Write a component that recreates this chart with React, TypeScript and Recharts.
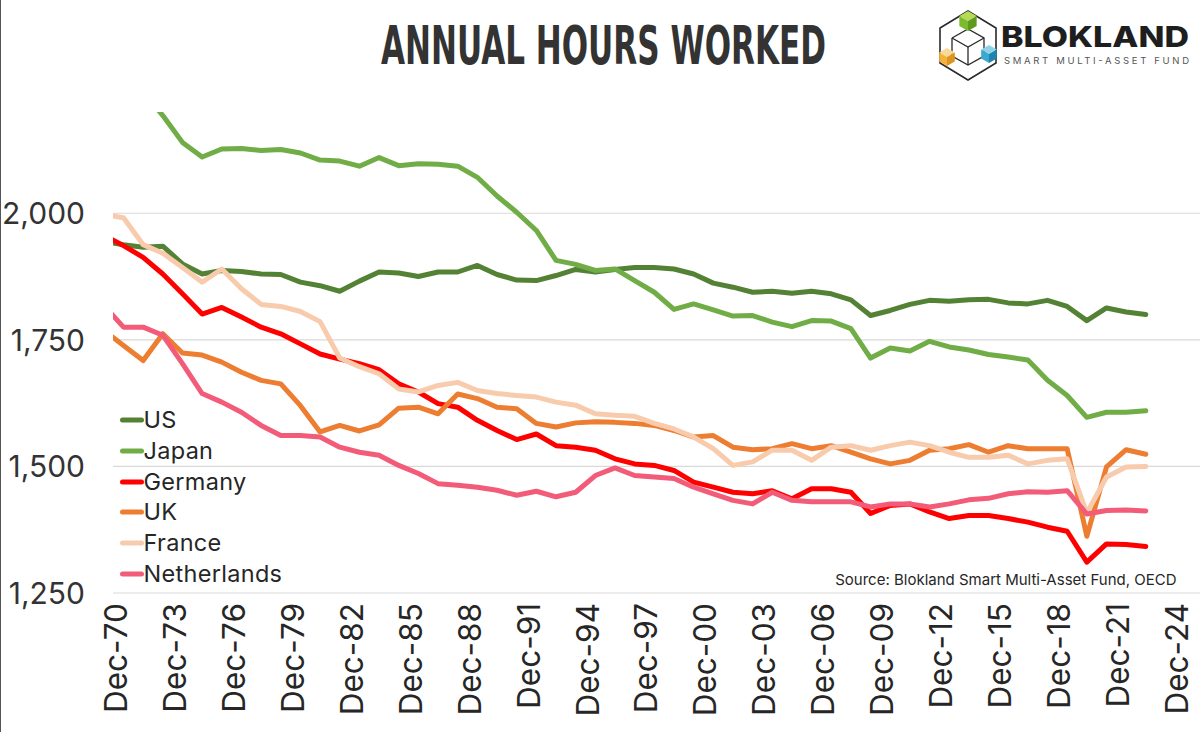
import React from 'react';
import { LineChart, Line, XAxis, YAxis, CartesianGrid, Legend } from 'recharts';

// ---------- data ----------
const years = [
  1970, 1971, 1972, 1973, 1974, 1975, 1976, 1977, 1978, 1979,
  1980, 1981, 1982, 1983, 1984, 1985, 1986, 1987, 1988, 1989,
  1990, 1991, 1992, 1993, 1994, 1995, 1996, 1997, 1998, 1999,
  2000, 2001, 2002, 2003, 2004, 2005, 2006, 2007, 2008, 2009,
  2010, 2011, 2012, 2013, 2014, 2015, 2016, 2017, 2018, 2019,
  2020, 2021, 2022, 2023,
];

const us = [
  1944, 1938, 1933, 1935, 1900, 1880, 1887, 1885, 1880, 1879,
  1864, 1857, 1846, 1866, 1884, 1882, 1875, 1884, 1884, 1897,
  1879, 1868, 1867, 1877, 1889, 1884, 1889, 1893, 1893, 1890,
  1880, 1862, 1854, 1844, 1846, 1842, 1846, 1841, 1829, 1798,
  1808, 1820, 1828, 1826, 1829, 1830, 1823, 1821, 1828, 1816,
  1788, 1813, 1805, 1800,
];

const japan = [
  2255, 2250, 2240, 2193, 2140, 2111, 2127, 2128, 2124, 2126,
  2119, 2105, 2103, 2093, 2110, 2094, 2098, 2097, 2093, 2071,
  2034, 2002, 1966, 1907, 1899, 1887, 1890, 1867, 1844, 1810,
  1821, 1809, 1797, 1798, 1785, 1776, 1788, 1787, 1772, 1714,
  1734, 1728, 1747, 1736, 1730, 1721, 1716, 1710, 1670, 1640,
  1597, 1607, 1607, 1610,
];

const germany = [
  1957, 1936, 1913, 1880, 1841, 1801, 1814, 1795, 1775, 1762,
  1742, 1722, 1712, 1703, 1691, 1663, 1647, 1624, 1617, 1591,
  1571, 1553, 1564, 1541, 1538, 1532, 1515, 1505, 1502, 1492,
  1469, 1459, 1449, 1446, 1452, 1436, 1456, 1456, 1449, 1407,
  1423, 1426, 1410, 1397, 1403, 1403, 1397, 1390, 1380, 1372,
  1311, 1347, 1346, 1342,
];

const uk = [
  1769, 1739, 1709, 1762, 1724, 1720, 1706, 1686, 1670, 1663,
  1620, 1568, 1581, 1570, 1582, 1615, 1617, 1604, 1643, 1634,
  1617, 1614, 1585, 1578, 1586, 1588, 1587, 1585, 1581, 1571,
  1558, 1561, 1538, 1533, 1535, 1545, 1535, 1541, 1528, 1515,
  1505, 1512, 1532, 1535, 1543, 1528, 1541, 1535, 1535, 1535,
  1362, 1499, 1533, 1524,
];

const france = [
  1998, 1991, 1938, 1921, 1893, 1864, 1890, 1851, 1820, 1816,
  1806, 1786, 1714, 1697, 1683, 1653, 1647, 1660, 1666, 1650,
  1644, 1640, 1637, 1627, 1621, 1604, 1601, 1599, 1585, 1574,
  1558, 1535, 1502, 1509, 1532, 1532, 1512, 1538, 1541, 1532,
  1541, 1548, 1541, 1528, 1518, 1518, 1522, 1505, 1512, 1515,
  1408, 1479, 1499, 1500,
];

const netherlands = [
  1818, 1775, 1775, 1759, 1703, 1644, 1627, 1607, 1581, 1561,
  1561, 1558, 1538, 1528, 1522, 1502, 1486, 1466, 1463, 1459,
  1453, 1443, 1451, 1440, 1449, 1482, 1497, 1482, 1479, 1476,
  1459, 1446, 1433, 1426, 1449, 1433, 1430, 1430, 1430, 1420,
  1426, 1426, 1420, 1426, 1434, 1437, 1446, 1450, 1449, 1452,
  1406, 1413, 1414, 1412,
];

const seriesNames = ['US', 'Japan', 'Germany', 'UK', 'France', 'Netherlands'];
const seriesValues = [us, japan, germany, uk, france, netherlands];
const seriesColors = ['#548235', '#70AD47', '#FF0000', '#ED7D31', '#F8CBAD', '#F25C78'];

const yTicks = [1250, 1500, 1750, 2000];
const xTickYears = [1970, 1973, 1976, 1979, 1982, 1985, 1988, 1991, 1994, 1997, 2000, 2003, 2006, 2009, 2012, 2015, 2018, 2021, 2024];
const xTickLabels = ['Dec-70', 'Dec-73', 'Dec-76', 'Dec-79', 'Dec-82', 'Dec-85', 'Dec-88', 'Dec-91', 'Dec-94', 'Dec-97', 'Dec-00', 'Dec-03', 'Dec-06', 'Dec-09', 'Dec-12', 'Dec-15', 'Dec-18', 'Dec-21', 'Dec-24'];

const TITLE = 'ANNUAL HOURS WORKED';
const SOURCE = 'Source: Blokland Smart Multi-Asset Fund, OECD';

// where each "Dec-YY" label sits relative to the start of year YY
const TICK_OFFSET = 0.585;
const X_DOMAIN: [number, number] = [1970.466, 2025.756];
const Y_DOMAIN: [number, number] = [1250, 2200];

const data = years.map((yr, i) => {
  const row: Record<string, number> = { t: yr };
  seriesNames.forEach((n, s) => {
    row[n] = seriesValues[s][i];
  });
  return row;
});

const xTickValues = xTickYears.map((y) => y + TICK_OFFSET);

const FONT = 'Inter, "Noto Sans", "Liberation Sans", sans-serif';

const XTick = (props: any) => {
  const { x, y, payload, index } = props;
  const i = typeof index === 'number' ? index : xTickValues.findIndex((v) => Math.abs(v - payload.value) < 1e-6);
  const label = xTickLabels[i] ?? '';
  return (
    <text
      x={x}
      y={y}
      transform={`rotate(-90, ${x}, ${y})`}
      textAnchor="end"
      dy="0.36em"
      fontSize={31.5}
      fill="#262626"
      fontFamily={FONT}
    >
      {label}
    </text>
  );
};

const YTick = (props: any) => {
  const { x, y, payload } = props;
  return (
    <text x={x} y={y} textAnchor="end" dy="0.36em" fontSize={30} fill="#333333" fontFamily={FONT}>
      {Number(payload.value).toLocaleString('en-US')}
    </text>
  );
};

const LegendContent = () => (
  <div style={{ fontFamily: FONT }}>
    {seriesNames.map((n, i) => (
      <div key={n} style={{ display: 'flex', alignItems: 'center', height: 30.8 }}>
        <svg width={24} height={10} style={{ display: 'block' }}>
          <line x1={2.5} y1={5} x2={21.5} y2={5} stroke={seriesColors[i]} strokeWidth={5} strokeLinecap="round" />
        </svg>
        <span style={{ fontSize: 23.5, color: '#262626', lineHeight: '30px', letterSpacing: 0.3 }}>{n}</span>
      </div>
    ))}
  </div>
);

const isoCube = (cx: number, cy: number, r: number, top: string, left: string, right: string) => {
  const w = r * 0.866;
  return (
    <g>
      <polygon points={`${cx},${cy - r} ${cx + w},${cy - r / 2} ${cx},${cy} ${cx - w},${cy - r / 2}`} fill={top} />
      <polygon points={`${cx - w},${cy - r / 2} ${cx},${cy} ${cx},${cy + r} ${cx - w},${cy + r / 2}`} fill={left} />
      <polygon points={`${cx},${cy} ${cx + w},${cy - r / 2} ${cx + w},${cy + r / 2} ${cx},${cy + r}`} fill={right} />
    </g>
  );
};

const Header = () => (
  <svg width={1200} height={110} style={{ position: 'absolute', left: 0, top: 0 }}>
    <g transform="translate(380,64) scale(1,1.5)">
      <text
        x={0}
        y={0}
        fontSize={36}
        fontWeight={700}
        fill="#333333"
        fontFamily='"DejaVu Sans Condensed", "Liberation Sans Narrow", "DejaVu Sans", sans-serif'
        textLength={445}
        lengthAdjust="spacingAndGlyphs"
      >
        {TITLE}
      </text>
    </g>
    {/* logo icon */}
    <polygon points="967,11 995,28 995,63 967,80 939,63 939,28" fill="none" stroke="#2a2a2a" strokeWidth={1.6} />
    <g stroke="#2a2a2a" strokeWidth={1.3} fill="none">
      <polyline points="951,38 967,29 983,38 983,56 967,65 951,56 951,38" />
      <polyline points="951,38 967,47 983,38" />
      <line x1={967} y1={47} x2={967} y2={65} />
    </g>
    {isoCube(967, 21, 10, '#B5DB55', '#7DBB2E', '#5E9A1F')}
    {isoCube(946, 57, 9, '#F9D99A', '#F3B23C', '#DD951F')}
    {isoCube(988, 54, 9, '#8FD3EA', '#3AA8D0', '#1F83AE')}
    <text
      x={1000}
      y={47}
      fontSize={29}
      fontWeight={800}
      fill="#1e1e1e"
      fontFamily={FONT}
      textLength={188}
      lengthAdjust="spacingAndGlyphs"
    >
      BLOKLAND
    </text>
    <text
      x={1003}
      y={64}
      fontSize={9.5}
      fill="#555555"
      fontFamily={FONT}
      textLength={185}
      lengthAdjust="spacing"
    >
      SMART MULTI-ASSET FUND
    </text>
  </svg>
);

export default function App() {
  return (
    <div
      style={{
        position: 'absolute',
        left: 0,
        top: 0,
        width: 1200,
        height: 732,
        background: '#ffffff',
        borderLeft: '1.5px solid #555555',
        boxSizing: 'border-box',
        overflow: 'hidden',
      }}
    >
      <div style={{ position: 'absolute', left: -1.5, top: 0 }}>
        <LineChart width={1200} height={732} data={data} margin={{ top: 112, right: 0, bottom: 0, left: 0 }}>
          <CartesianGrid horizontal vertical={false} horizontalValues={yTicks} stroke="#D9D9D9" strokeWidth={1.2} />
          <XAxis
            type="number"
            dataKey="t"
            domain={X_DOMAIN}
            allowDataOverflow
            ticks={xTickValues}
            interval={0}
            height={139}
            axisLine={false}
            tickLine={false}
            tickSize={0}
            tickMargin={10}
            tick={<XTick />}
          />
          <YAxis
            type="number"
            domain={Y_DOMAIN}
            allowDataOverflow
            ticks={yTicks}
            width={113}
            axisLine={false}
            tickLine={false}
            tickSize={0}
            tickMargin={28}
            tick={<YTick />}
          />
          <Legend
            layout="vertical"
            verticalAlign="middle"
            align="center"
            content={<LegendContent />}
            wrapperStyle={{ position: 'absolute', left: 120, top: 404.6, width: 'auto', height: 'auto' }}
          />
          {seriesNames.map((n, i) => (
            <Line
              key={n}
              type="linear"
              dataKey={n}
              name={n}
              stroke={seriesColors[i]}
              strokeWidth={5}
              strokeLinejoin="round"
              strokeLinecap="round"
              dot={false}
              activeDot={false}
              isAnimationActive={false}
            />
          ))}
        </LineChart>
        <div
          style={{
            position: 'absolute',
            right: 23,
            top: 570,
            fontFamily: FONT,
            fontSize: 15,
            color: '#262626',
            whiteSpace: 'nowrap',
          }}
        >
          {SOURCE}
        </div>
      </div>
      <Header />
    </div>
  );
}
